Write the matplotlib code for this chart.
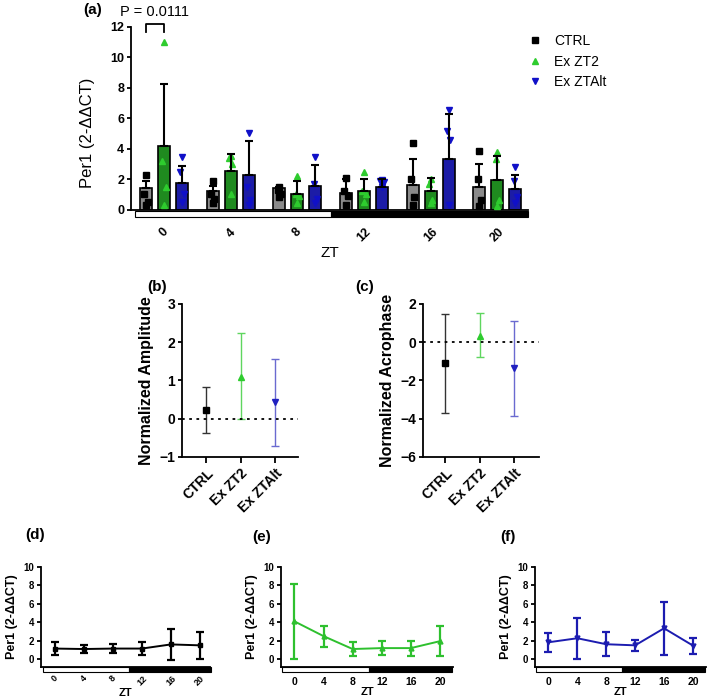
import numpy as np
import matplotlib
matplotlib.use("Agg")
import matplotlib.pyplot as plt
from matplotlib.patches import Rectangle

plt.rcParams['font.family'] = ['Liberation Sans', 'DejaVu Sans']

# ---------------- data ----------------
zt = [0, 4, 8, 12, 16, 20]
groups = ['CTRL', 'Ex ZT2', 'Ex ZTAlt']

# panel (a) bar means / SD
ctrl_mean = [1.4, 1.2, 1.4, 1.1, 1.6, 1.5]
ctrl_sd = [0.45, 0.35, 0.1, 0.9, 1.7, 1.5]
zt2_mean = [4.2, 2.5, 1.05, 1.2, 1.2, 1.95]
zt2_sd = [4.05, 1.15, 0.8, 0.8, 0.85, 1.6]
alt_mean = [1.75, 2.25, 1.55, 1.45, 3.35, 1.35]
alt_sd = [1.1, 2.25, 1.35, 0.55, 2.9, 0.9]

# panel (a) individual points
ctrl_pts = [[2.25, 1.0, 0.5, 0.3], [1.85, 1.0, 0.7, 0.4], [1.45, 1.3, 1.0, 0.8],
            [2.05, 1.2, 0.9, 0.3], [4.35, 2.0, 0.8, 0.3], [3.85, 2.0, 0.6, 0.2]]
zt2_pts = [[11.0, 3.2, 1.5, 0.3], [3.5, 3.4, 3.0, 1.0], [2.2, 1.0, 0.9, 0.4],
           [2.45, 1.2, 1.0, 0.5], [2.0, 1.7, 0.6, 0.4], [3.8, 3.3, 0.6, 0.2]]
alt_pts = [[3.45, 2.45, 1.0, 0.5], [5.0, 1.5, 0.6, 0.3], [3.45, 1.7, 0.7, 0.4],
           [1.95, 1.85, 1.8, 1.5], [6.55, 5.15, 4.6, 0.3], [2.8, 1.85, 0.8, 0.4]]

# panel (b) amplitude, (c) acrophase: value, lower, upper
amp_val = [0.22, 1.1, 0.43]
amp_lo = [-0.38, 0.0, -0.72]
amp_hi = [0.83, 2.25, 1.57]
acro_val = [-1.1, 0.35, -1.35]
acro_lo = [-3.7, -0.75, -3.85]
acro_hi = [1.5, 1.52, 1.1]

# panels (d)-(f) line means / SD
d_mean = [1.15, 1.1, 1.15, 1.15, 1.6, 1.5]
d_sd = [0.72, 0.45, 0.45, 0.72, 1.7, 1.47]
e_mean = [4.1, 2.5, 1.1, 1.2, 1.2, 1.95]
e_sd = [4.05, 1.15, 0.72, 0.78, 0.82, 1.6]
f_mean = [1.83, 2.27, 1.62, 1.5, 3.35, 1.47]
f_sd = [1.05, 2.23, 1.3, 0.58, 2.88, 0.86]

# ---------------- styles ----------------
bar_fill = ['#8a8a8a', '#1f8a1f', '#1c1ca6']
pt_col = ['black', '#2ecc2e', '#1010c8']
markers = ['s', '^', 'v']
ci_col = ['#333333', '#5fd65f', '#6a6ad0']
line_col = ['black', '#2ec02e', '#1c1cb0']

W, H = 709, 700
fig = plt.figure(figsize=(W / 100, H / 100), dpi=100)


def px_axes(x0, x1, ytop, ybot):
    return fig.add_axes([x0 / W, 1 - ybot / H, (x1 - x0) / W, (ybot - ytop) / H])


def style(ax, fs):
    ax.spines['top'].set_visible(False)
    ax.spines['right'].set_visible(False)
    for s in ['left', 'bottom']:
        ax.spines[s].set_linewidth(1.3)
    ax.tick_params(axis='y', width=1.3, length=3, labelsize=fs, pad=2)
    for lab in ax.get_yticklabels() + ax.get_xticklabels():
        lab.set_fontweight('bold')


def light_dark(ax, x0, xmid, x1, y0, y1):
    ax.add_patch(Rectangle((x0, y0), xmid - x0, y1 - y0, facecolor='white',
                           edgecolor='black', lw=0.8, clip_on=False))
    ax.add_patch(Rectangle((xmid, y0), x1 - xmid, y1 - y0, facecolor='black',
                           edgecolor='black', lw=0.8, clip_on=False))


# ---------------- panel (a) ----------------
ax = px_axes(131, 528, 27, 209.5)
means = [ctrl_mean, zt2_mean, alt_mean]
sds = [ctrl_sd, zt2_sd, alt_sd]
pts = [ctrl_pts, zt2_pts, alt_pts]
x = np.arange(len(zt))
off = 0.27
jit = [0, -0.05, 0.05, 0]
for k in range(3):
    xs = x + (k - 1) * off
    ax.bar(xs, means[k], width=0.18, color=bar_fill[k], edgecolor='black', lw=1.2, zorder=2)
    for i in range(len(zt)):
        for j, v in enumerate(pts[k][i]):
            ax.plot(xs[i] + jit[j] * 0.5, v, marker=markers[k], color=pt_col[k],
                    ms=5, ls='none', zorder=3, clip_on=False)
    ax.errorbar(xs, means[k], yerr=[np.zeros(len(zt)), sds[k]], fmt='none',
                ecolor='black', elinewidth=1.5, capsize=3, capthick=1.5, zorder=4)
    ax.plot([], [], marker=markers[k], color=pt_col[k], ls='none', ms=5, label=groups[k])

ax.set_xlim(-0.495, 5.46)
ax.set_ylim(0, 12)
ax.set_yticks(range(0, 13, 2))
ax.set_xticks(x)
ax.set_xticklabels([str(z) for z in zt], rotation=45, ha='center', fontsize=9)
ax.tick_params(axis='x', length=0, pad=12)
ax.set_ylabel('Per1 (2-ΔΔCT)', fontsize=12)
ax.yaxis.set_label_coords(-0.09, 0.42)
ax.set_xlabel('ZT', fontsize=11, labelpad=1)
style(ax, 9)
light_dark(ax, -0.435, 2.5, 5.46, -0.5, -0.1)
# significance bracket
ax.plot([-off, -off, 0, 0], [11.65, 12.2, 12.2, 11.65], color='black', lw=1.3, clip_on=False)
fig.text(155 / W, 1 - 12 / H, 'P = 0.0111', fontsize=10.5, ha='center', va='center')
ax.legend(loc='upper left', bbox_to_anchor=(1.0, 0.96), frameon=False, fontsize=10,
          handlelength=1.0, handletextpad=0.9, labelspacing=0.45, borderpad=0,
          borderaxespad=0)
fig.text(93 / W, 1 - 10 / H, '(a)', fontsize=11, fontweight='bold', ha='center', va='center')

# ---------------- panels (b), (c) ----------------
def ci_panel(ax, val, lo, hi, ylim, yticks, ylabel, xl):
    cx = np.arange(3)
    for k in range(3):
        ax.errorbar(cx[k], val[k], yerr=[[val[k] - lo[k]], [hi[k] - val[k]]], fmt='none',
                    ecolor=ci_col[k], elinewidth=1.0, capsize=3, capthick=1.0)
        ax.plot(cx[k], val[k], marker=markers[k], color=pt_col[k] if k != 2 else '#2020c0',
                ms=5, ls='none')
    ax.axhline(0, color='black', ls=(0, (1.5, 2.5)), lw=1.3)
    ax.set_xlim(*xl)
    ax.set_ylim(*ylim)
    ax.set_yticks(yticks)
    ax.set_xticks(cx)
    ax.set_xticklabels(groups, rotation=45, ha='right', rotation_mode='anchor', fontsize=10)
    ax.tick_params(axis='x', width=1.3, length=4, pad=3)
    ax.set_ylabel(ylabel, fontsize=11.5, fontweight='bold')
    style(ax, 10)


ax = px_axes(182, 298, 304, 457)
ci_panel(ax, amp_val, amp_lo, amp_hi, (-1, 3), [-1, 0, 1, 2, 3], 'Normalized Amplitude', (-0.7, 2.67))
fig.text(157 / W, 1 - 287 / H, '(b)', fontsize=11, fontweight='bold', ha='center', va='center')

ax = px_axes(423, 539, 304, 457)
ci_panel(ax, acro_val, acro_lo, acro_hi, (-6, 2), [-6, -4, -2, 0, 2], 'Normalized Acrophase', (-0.64, 2.72))
fig.text(365 / W, 1 - 287 / H, '(c)', fontsize=11, fontweight='bold', ha='center', va='center')

# ---------------- panels (d), (e), (f) ----------------
def line_panel(ax, mean, sd, k, rot):
    ax.errorbar(zt, mean, yerr=sd, color=line_col[k], lw=1.4, elinewidth=1.6,
                capsize=3, capthick=1.6, marker=markers[k], ms=3.5)
    ax.set_xlim(-1.85, 21.8)
    ax.set_ylim(-0.85, 10)
    ax.set_yticks(range(0, 11, 2))
    ax.set_xticks(zt)
    if rot:
        ax.set_xticklabels([str(z) for z in zt], rotation=45, ha='center', fontsize=6.5)
        ax.tick_params(axis='x', length=0, pad=5)
    else:
        ax.set_xticklabels([str(z) for z in zt], fontsize=7.5)
        ax.tick_params(axis='x', length=0, pad=7)
    ax.set_ylabel('Per1 (2-ΔΔCT)', fontsize=9, fontweight='bold', labelpad=4)
    ax.set_xlabel('ZT', fontsize=8, fontweight='bold', labelpad=0)
    style(ax, 7)
    light_dark(ax, -1.7, 10.2, 21.6, -1.4, -0.87)


ax = px_axes(41, 210, 567, 667)
line_panel(ax, d_mean, d_sd, 0, True)
ax.set_xlim(-1.93, 21.4)
fig.text(35 / W, 1 - 535 / H, '(d)', fontsize=11, fontweight='bold', ha='center', va='center')

ax = px_axes(281, 453, 567, 667)
line_panel(ax, e_mean, e_sd, 1, False)
fig.text(262 / W, 1 - 537 / H, '(e)', fontsize=11, fontweight='bold', ha='center', va='center')

ax = px_axes(535, 706, 567, 667)
line_panel(ax, f_mean, f_sd, 2, False)
fig.text(508 / W, 1 - 537 / H, '(f)', fontsize=11, fontweight='bold', ha='center', va='center')

fig.savefig('out.png', dpi=100)
